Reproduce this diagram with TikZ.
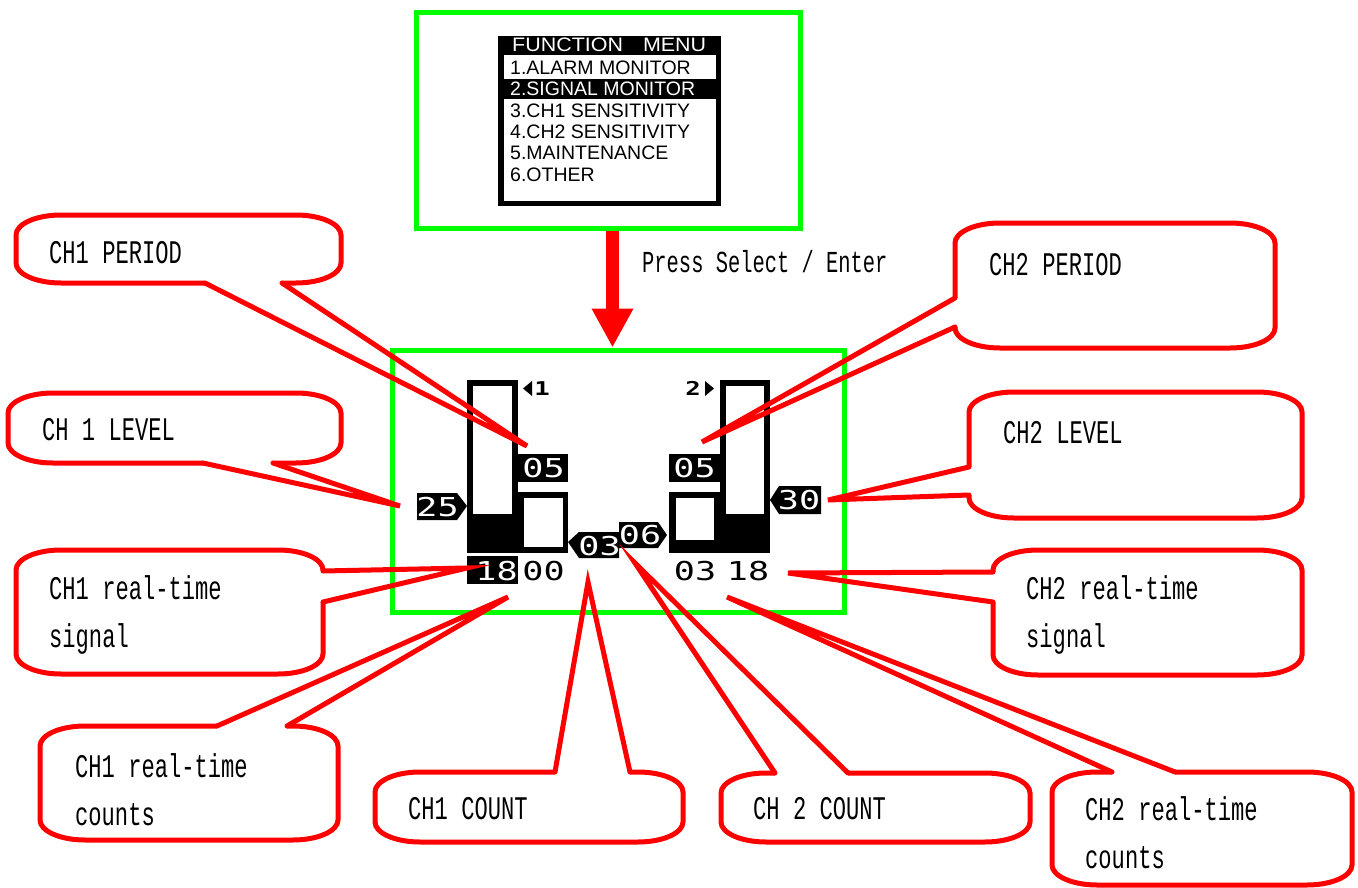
\documentclass[tikz,border=0pt]{standalone}
\usepackage{fontspec}
\usepackage{xcolor}
\usepackage{tikz}
\usetikzlibrary{arrows.meta}
\newfontfamily\callfont[FakeStretch=0.67]{Liberation Mono}
\newfontfamily\menufont{Liberation Sans}
\newfontfamily\lcdfont[FakeStretch=1.35]{DejaVu Sans Mono}
\definecolor{framegreen}{RGB}{0,255,0}
\definecolor{callred}{RGB}{255,0,0}

% rounded box of a callout: x1 y1 x2 y2
\newcommand\bubble[4]{\draw[bubbleline] (#1+45,#2) -- (#3-45,#2)
    .. controls (#3-20,#2) and (#3,#2+9) .. (#3,#2+20) -- (#3,#4-20)
    .. controls (#3,#4-9) and (#3-20,#4) .. (#3-45,#4) -- (#1+45,#4)
    .. controls (#1+20,#4) and (#1,#4-9) .. (#1,#4-20) -- (#1,#2+20)
    .. controls (#1,#2+9) and (#1+20,#2) .. (#1+45,#2) -- cycle;}
% wedge of a callout: base, tip, base
\newcommand\pointer[3]{\draw[gapline] (#1) -- (#3);
    \draw[bubbleline] (#1) -- (#2) -- (#3);}

\begin{document}
\begin{tikzpicture}[x=1pt, y=-1pt, line join=miter,
    frame/.style={draw=framegreen, line width=5pt, inner sep=0pt},
    bubbleline/.style={draw=callred, line width=5pt, line cap=round},
    gapline/.style={draw=white, line width=7pt},
    calltext/.style={font=\callfont\fontsize{33}{48}\selectfont, anchor=base west, inner sep=0pt, align=left},
    menutext/.style={font=\menufont\fontsize{19.5}{20}\selectfont, anchor=base west, inner sep=0pt},
    lcdnum/.style={font=\lcdfont\fontsize{26}{26}\selectfont, inner sep=0pt},
    lcdsmall/.style={font=\lcdfont\bfseries\fontsize{19}{19}\selectfont, inner sep=0pt},
    bigarrow/.style={draw=callred, line width=13pt, -{Triangle[width=39pt, length=39pt]}}]
    \useasboundingbox (0,0) rectangle (1358,888);

    % menu screen
    \node[frame, minimum width=383.5pt, minimum height=216pt] (menu) at (608.25,120.5) {};
    \fill (498,36) rectangle (721,206);
    \fill[white] (504,55) rectangle (716,79);
    \fill[white] (504,99) rectangle (716,201);
    \node[menutext, text=white, font=\menufont\fontsize{19.5}{20}\selectfont\addfontfeatures{FakeStretch=1.1}] (mtitle) at (512,52) {FUNCTION\hspace{20pt}MENU};
    \node[menutext] (m1) at (510,75) {1.ALARM MONITOR};
    \node[menutext, text=white] (m2) at (510,96) {2.SIGNAL MONITOR};
    \node[menutext] (m3) at (510,118) {3.CH1 SENSITIVITY};
    \node[menutext] (m4) at (510,139) {4.CH2 SENSITIVITY};
    \node[menutext] (m5) at (510,160) {5.MAINTENANCE};
    \node[menutext] (m6) at (510,182) {6.OTHER};

    % signal monitor screen
    \node[frame, minimum width=452pt, minimum height=262.5pt] (disp) at (618.5,481.25) {};
    \coordinate (ax) at (612.5,0);
    \draw[bigarrow] (menu.south -| ax) -- (disp.north -| ax);
    \node[calltext, font=\callfont\fontsize{30.5}{40}\selectfont] (press) at (642,272) {Press Select / Enter};

    % channel 1
    \fill (467,380) rectangle (518,553);
    \fill[white] (473,386) rectangle (512,514);
    \fill (518,454) rectangle (568,482);
    \fill (518,492) rectangle (568,553);
    \fill[white] (524,498) rectangle (563,547);
    \fill (523,388.5) -- (532,381) -- (532,396) -- cycle;
    \node[lcdsmall] (mark1) at (542,388.5) {1};
    \fill (417,493) -- (457,493) -- (467,506) -- (457,520) -- (417,520) -- cycle;
    \fill (467,556) rectangle (518,584);
    \fill (568,542) -- (579,532) -- (619,532) -- (619,558) -- (579,558) -- cycle;
    \node[lcdnum, text=white] (per1val) at (543.5,468) {05};
    \node[lcdnum, text=white] (lev1val) at (437.5,507) {25};
    \node[lcdnum, text=white] (sig1val) at (496.5,571) {18};
    \node[lcdnum] (cnt1val) at (543.5,571) {00};
    \node[lcdnum, text=white] (tot1val) at (599.5,546) {03};

    % channel 2
    \fill (619,522) -- (658,522) -- (667,535) -- (658,548) -- (619,548) -- cycle;
    \fill (720,380) rectangle (770,553);
    \fill[white] (726,386) rectangle (764,514);
    \fill (669,454) rectangle (720,482);
    \fill (669,492) rectangle (720,553);
    \fill[white] (676,498) rectangle (714,540);
    \fill (714,388.5) -- (705,381) -- (705,396) -- cycle;
    \node[lcdsmall] (mark2) at (693,388.5) {2};
    \fill (770,500) -- (779,486) -- (821,486) -- (821,514) -- (779,514) -- cycle;
    \node[lcdnum, text=white] (tot2val) at (640,535) {06};
    \node[lcdnum, text=white] (per2val) at (694.5,468) {05};
    \node[lcdnum, text=white] (lev2val) at (799,500) {30};
    \node[lcdnum] (cnt2val) at (695,571) {03};
    \node[lcdnum] (sig2val) at (748,571) {18};

    % callouts
    \coordinate (per1a) at (205,283); \coordinate (per1b) at (282,283); \coordinate (per1tip) at (527,446);
    \bubble{16}{215}{341}{283} \pointer{per1a}{per1tip}{per1b}
    \node[calltext] (per1) at (49,263) {CH1 PERIOD};

    \coordinate (lev1a) at (203,463); \coordinate (lev1b) at (273,463); \coordinate (lev1tip) at (400,506);
    \bubble{8}{393}{341}{463} \pointer{lev1a}{lev1tip}{lev1b}
    \node[calltext] (lev1) at (42,440) {CH 1 LEVEL};

    \coordinate (sig1a) at (323,571); \coordinate (sig1b) at (323,602); \coordinate (sig1tip) at (467,568);
    \bubble{16}{550}{323}{674} \pointer{sig1a}{sig1tip}{sig1b}
    \node[calltext] (sig1) at (49,647) {CH1 real-time\\signal};

    \coordinate (cnt1a) at (217,726); \coordinate (cnt1b) at (287,726); \coordinate (cnt1tip) at (508,597);
    \bubble{40}{726}{338}{840} \pointer{cnt1a}{cnt1tip}{cnt1b}
    \node[calltext] (cnt1) at (75,825) {CH1 real-time\\counts};

    \coordinate (tot1a) at (555,772); \coordinate (tot1b) at (630,772); \coordinate (tot1tip) at (588,582);
    \bubble{375}{772}{683}{842} \pointer{tot1a}{tot1tip}{tot1b}
    \node[calltext] (tot1) at (408,819) {CH1 COUNT};

    \coordinate (tot2a) at (775,773); \coordinate (tot2b) at (848,773); \coordinate (tot2tip) at (635,563);
    \bubble{721}{773}{1030}{842} \pointer{tot2a}{tot2tip}{tot2b}
    \node[calltext] (tot2) at (753,819) {CH 2 COUNT};

    \coordinate (cnt2a) at (1112,772); \coordinate (cnt2b) at (1175,772); \coordinate (cnt2tip) at (727,597);
    \bubble{1052}{772}{1352}{885} \pointer{cnt2a}{cnt2tip}{cnt2b}
    \node[calltext] (cnt2) at (1085,868) {CH2 real-time\\counts};

    \coordinate (sig2a) at (993,572); \coordinate (sig2b) at (993,602); \coordinate (sig2tip) at (788,573);
    \bubble{993}{550}{1302}{675} \pointer{sig2a}{sig2tip}{sig2b}
    \node[calltext] (sig2) at (1026,647) {CH2 real-time\\signal};

    \coordinate (lev2a) at (969,467); \coordinate (lev2b) at (969,495); \coordinate (lev2tip) at (828,500);
    \bubble{969}{392}{1302}{518} \pointer{lev2a}{lev2tip}{lev2b}
    \node[calltext] (lev2) at (1003,443) {CH2 LEVEL};

    \coordinate (per2a) at (955,298); \coordinate (per2b) at (955,327); \coordinate (per2tip) at (702,442);
    \bubble{955}{223}{1275}{348} \pointer{per2a}{per2tip}{per2b}
    \node[calltext] (per2) at (989,275) {CH2 PERIOD};
\end{tikzpicture}
\end{document}
